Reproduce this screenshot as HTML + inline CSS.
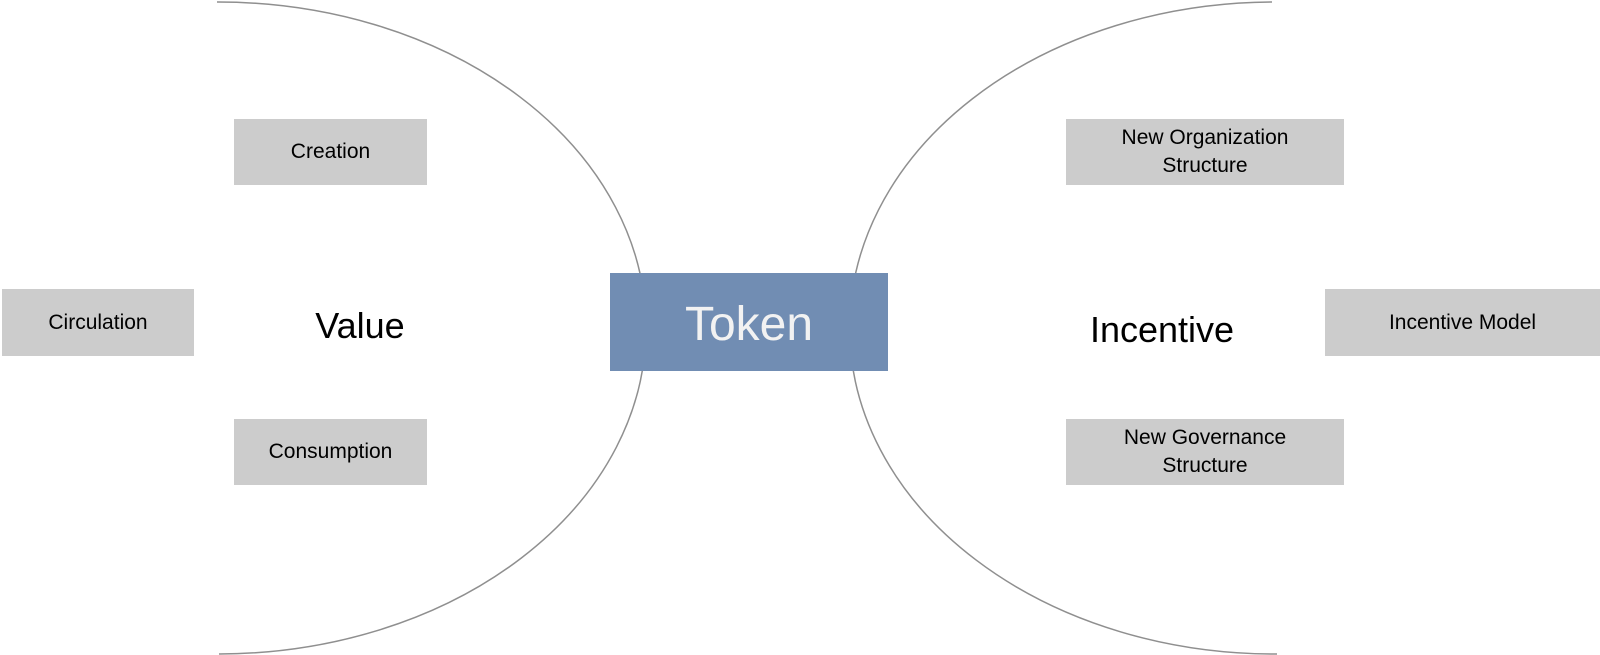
<!DOCTYPE html>
<html><head><meta charset="utf-8"><style>
html,body{margin:0;padding:0;background:#fff;}
body{width:1600px;height:655px;position:relative;overflow:hidden;font-family:"Liberation Sans",Arial,sans-serif;}
.b{position:absolute;background:#cccccc;display:flex;align-items:center;justify-content:center;text-align:center;font-size:21px;line-height:28px;color:#000;box-sizing:border-box;}
.t{position:absolute;font-size:36px;color:#000;transform:translate(-50%,-50%);white-space:nowrap;}
svg{position:absolute;left:0;top:0;}
</style></head><body>
<svg width="1600" height="655">
<path d="M217,2 A428,326 0 0 1 219,654" fill="none" stroke="#8f8f8f" stroke-width="1.5"/>
<path d="M1272,2 A425,326 0 0 0 1277,654" fill="none" stroke="#8f8f8f" stroke-width="1.5"/>
</svg>
<div class="b" style="left:234px;top:119px;width:193px;height:66px;">Creation</div>
<div class="b" style="left:2px;top:289px;width:192px;height:67px;">Circulation</div>
<div class="b" style="left:234px;top:419px;width:193px;height:66px;">Consumption</div>
<div class="t" style="left:360px;top:326px;">Value</div>
<div class="b" style="left:610px;top:273px;width:278px;height:98px;background:#718db3;color:#f2f2f2;font-size:48px;padding-top:6px;">Token</div>
<div class="t" style="left:1162px;top:330px;">Incentive</div>
<div class="b" style="left:1066px;top:119px;width:278px;height:66px;">New Organization<br>Structure</div>
<div class="b" style="left:1325px;top:289px;width:275px;height:67px;">Incentive Model</div>
<div class="b" style="left:1066px;top:419px;width:278px;height:66px;">New Governance<br>Structure</div>
</body></html>
